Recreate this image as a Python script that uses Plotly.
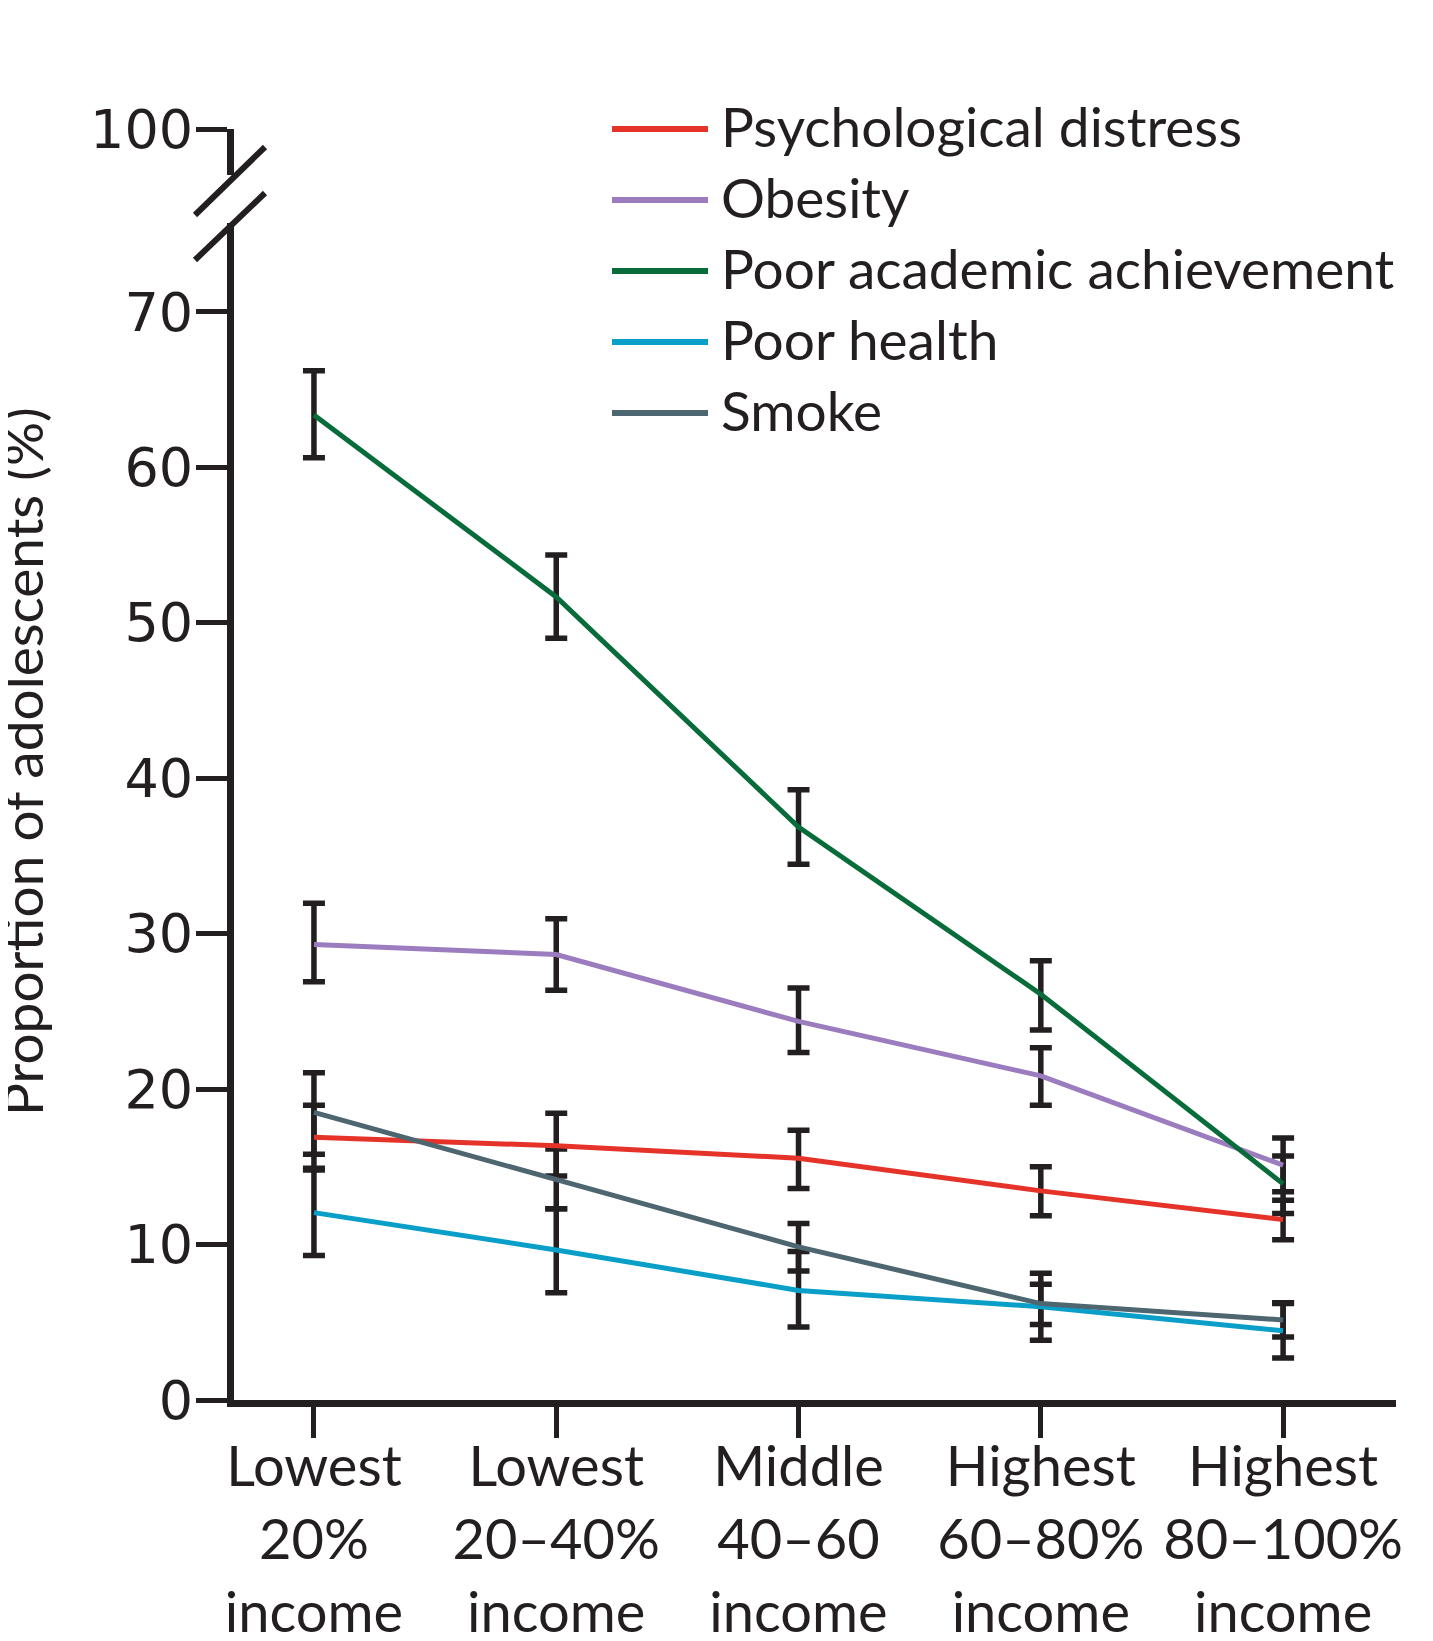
import plotly.graph_objects as go

# income groups (x categories)
groups = ["Lowest<br>20%<br>income", "Lowest<br>20–40%<br>income", "Middle<br>40–60<br>income",
          "Highest<br>60–80%<br>income", "Highest<br>80–100%<br>income"]

series_names = ["Psychological distress", "Obesity", "Poor academic achievement", "Poor health", "Smoke"]
series_colors = ["#e5332a", "#9b7cbf", "#086c3a", "#0a9fc9", "#4d6670"]

# point estimates (%)
psych = [16.9, 16.35, 15.55, 13.45, 11.6]
obesity = [29.3, 28.65, 24.35, 20.85, 15.1]
academic = [63.35, 51.65, 36.85, 26.1, 13.9]
health = [12.05, 9.65, 7.05, 6.0, 4.45]
smoke = [18.5, 14.15, 9.85, 6.2, 5.15]

# 95% CI upper / lower bounds
psych_hi = [18.95, 18.45, 17.35, 15.0, 12.85]
psych_lo = [14.9, 14.4, 13.6, 11.85, 10.3]
obesity_hi = [31.95, 30.95, 26.5, 22.65, 16.85]
obesity_lo = [26.9, 26.35, 22.35, 18.95, 13.4]
academic_hi = [66.2, 54.35, 39.25, 28.25, 15.7]
academic_lo = [60.6, 49.0, 34.45, 23.8, 12.0]
health_hi = [14.8, 12.3, 9.55, 7.45, 6.2]
health_lo = [9.3, 6.9, 4.7, 3.85, 2.7]
smoke_hi = [21.05, 16.15, 11.35, 8.15, 6.25]
smoke_lo = [15.8, 12.3, 8.3, 4.85, 4.05]

values = [psych, obesity, academic, health, smoke]
highs = [psych_hi, obesity_hi, academic_hi, health_hi, smoke_hi]
lows = [psych_lo, obesity_lo, academic_lo, health_lo, smoke_lo]

FONT = "Lato"
INK = "#231f20"
W, H = 1433, 1641
PAGE_PAD = 8  # browser body margin shifts the figure
L, T = 234, 129          # plot-area corner in page pixels
PW, PH = 1162, 1271


def px(x):
    return (x - L) / PW


def py(y):
    return (T + PH - y) / PH


xs = list(range(len(groups)))
fig = go.Figure()

# error bars first so the coloured lines sit on top
for vals, hi, lo in zip(values, highs, lows):
    fig.add_trace(go.Scatter(
        x=xs, y=vals, mode="markers", marker=dict(size=1, opacity=0),
        error_y=dict(type="data", symmetric=False,
                     array=[h - v for h, v in zip(hi, vals)],
                     arrayminus=[v - l for v, l in zip(vals, lo)],
                     color=INK, thickness=5.5, width=11),
        showlegend=False, hoverinfo="skip"))

for name, vals, col in zip(series_names, values, series_colors):
    fig.add_trace(go.Scatter(x=xs, y=vals, mode="lines", name=name,
                             line=dict(color=col, width=5), showlegend=False))

# empty trace so the upper (broken) axis segment gets drawn
fig.add_trace(go.Scatter(x=[None], y=[None], yaxis="y2", showlegend=False, hoverinfo="skip"))

# manual legend (long line samples)
shapes = []
annotations = []
leg_y0, leg_step = 129, 71
for i, (name, col) in enumerate(zip(series_names, series_colors)):
    yy = py(leg_y0 + i * leg_step)
    shapes.append(dict(type="line", xref="paper", yref="paper", x0=px(612), x1=px(708),
                       y0=yy, y1=yy, line=dict(color=col, width=6)))
    annotations.append(dict(text=name, xref="paper", yref="paper", x=px(719), y=py(leg_y0 + i * leg_step - 3),
                            xanchor="left", yanchor="middle", showarrow=False,
                            font=dict(family=FONT, size=55, color=INK)))

# axis break marks
for (x0, y0, x1, y1) in [(195, 215, 265, 147), (195, 260, 265, 193)]:
    shapes.append(dict(type="line", xref="paper", yref="paper", x0=px(x0), y0=py(y0),
                       x1=px(x1), y1=py(y1), line=dict(color=INK, width=6)))

annotations.append(dict(text="Proportion of adolescents (%)", xref="paper", yref="paper",
                        x=px(22), y=py(762), textangle=-90, showarrow=False,
                        xanchor="center", yanchor="middle",
                        font=dict(family=FONT, size=55, color=INK)))

axis_common = dict(showgrid=False, zeroline=False, showline=True, linecolor=INK,
                   linewidth=7, ticks="outside", ticklen=31, tickwidth=5, tickcolor=INK,
                   automargin=False, ticklabelstandoff=-8,
                   tickfont=dict(family="DejaVu Sans", size=54, color=INK))

fig.update_layout(
    template="none",
    width=W, height=H,
    margin=dict(l=L - PAGE_PAD, r=W - L - PW + PAGE_PAD, t=T - PAGE_PAD,
                b=H - T - PH + PAGE_PAD, pad=0),
    paper_bgcolor="white", plot_bgcolor="white",
    showlegend=False,
    xaxis=dict(range=[-0.330, 4.466], tickvals=xs, ticktext=groups, automargin=False,
               showgrid=False, zeroline=False, showline=True, linecolor=INK, linewidth=7,
               ticks="outside", ticklen=31, tickwidth=5, tickcolor=INK, ticklabelstandoff=-19,
               tickfont=dict(family=FONT, size=56, color=INK)),
    yaxis=dict(domain=[0, py(223)], range=[0, 75.7], tickvals=[0, 10, 20, 30, 40, 50, 60, 70],
               **axis_common),
    yaxis2=dict(domain=[py(175), 1], range=[97.0, 100.0], tickvals=[100], ticktext=["100"],
                anchor="x", **axis_common),
    shapes=shapes,
    annotations=annotations,
)

fig.write_html("out.html")
